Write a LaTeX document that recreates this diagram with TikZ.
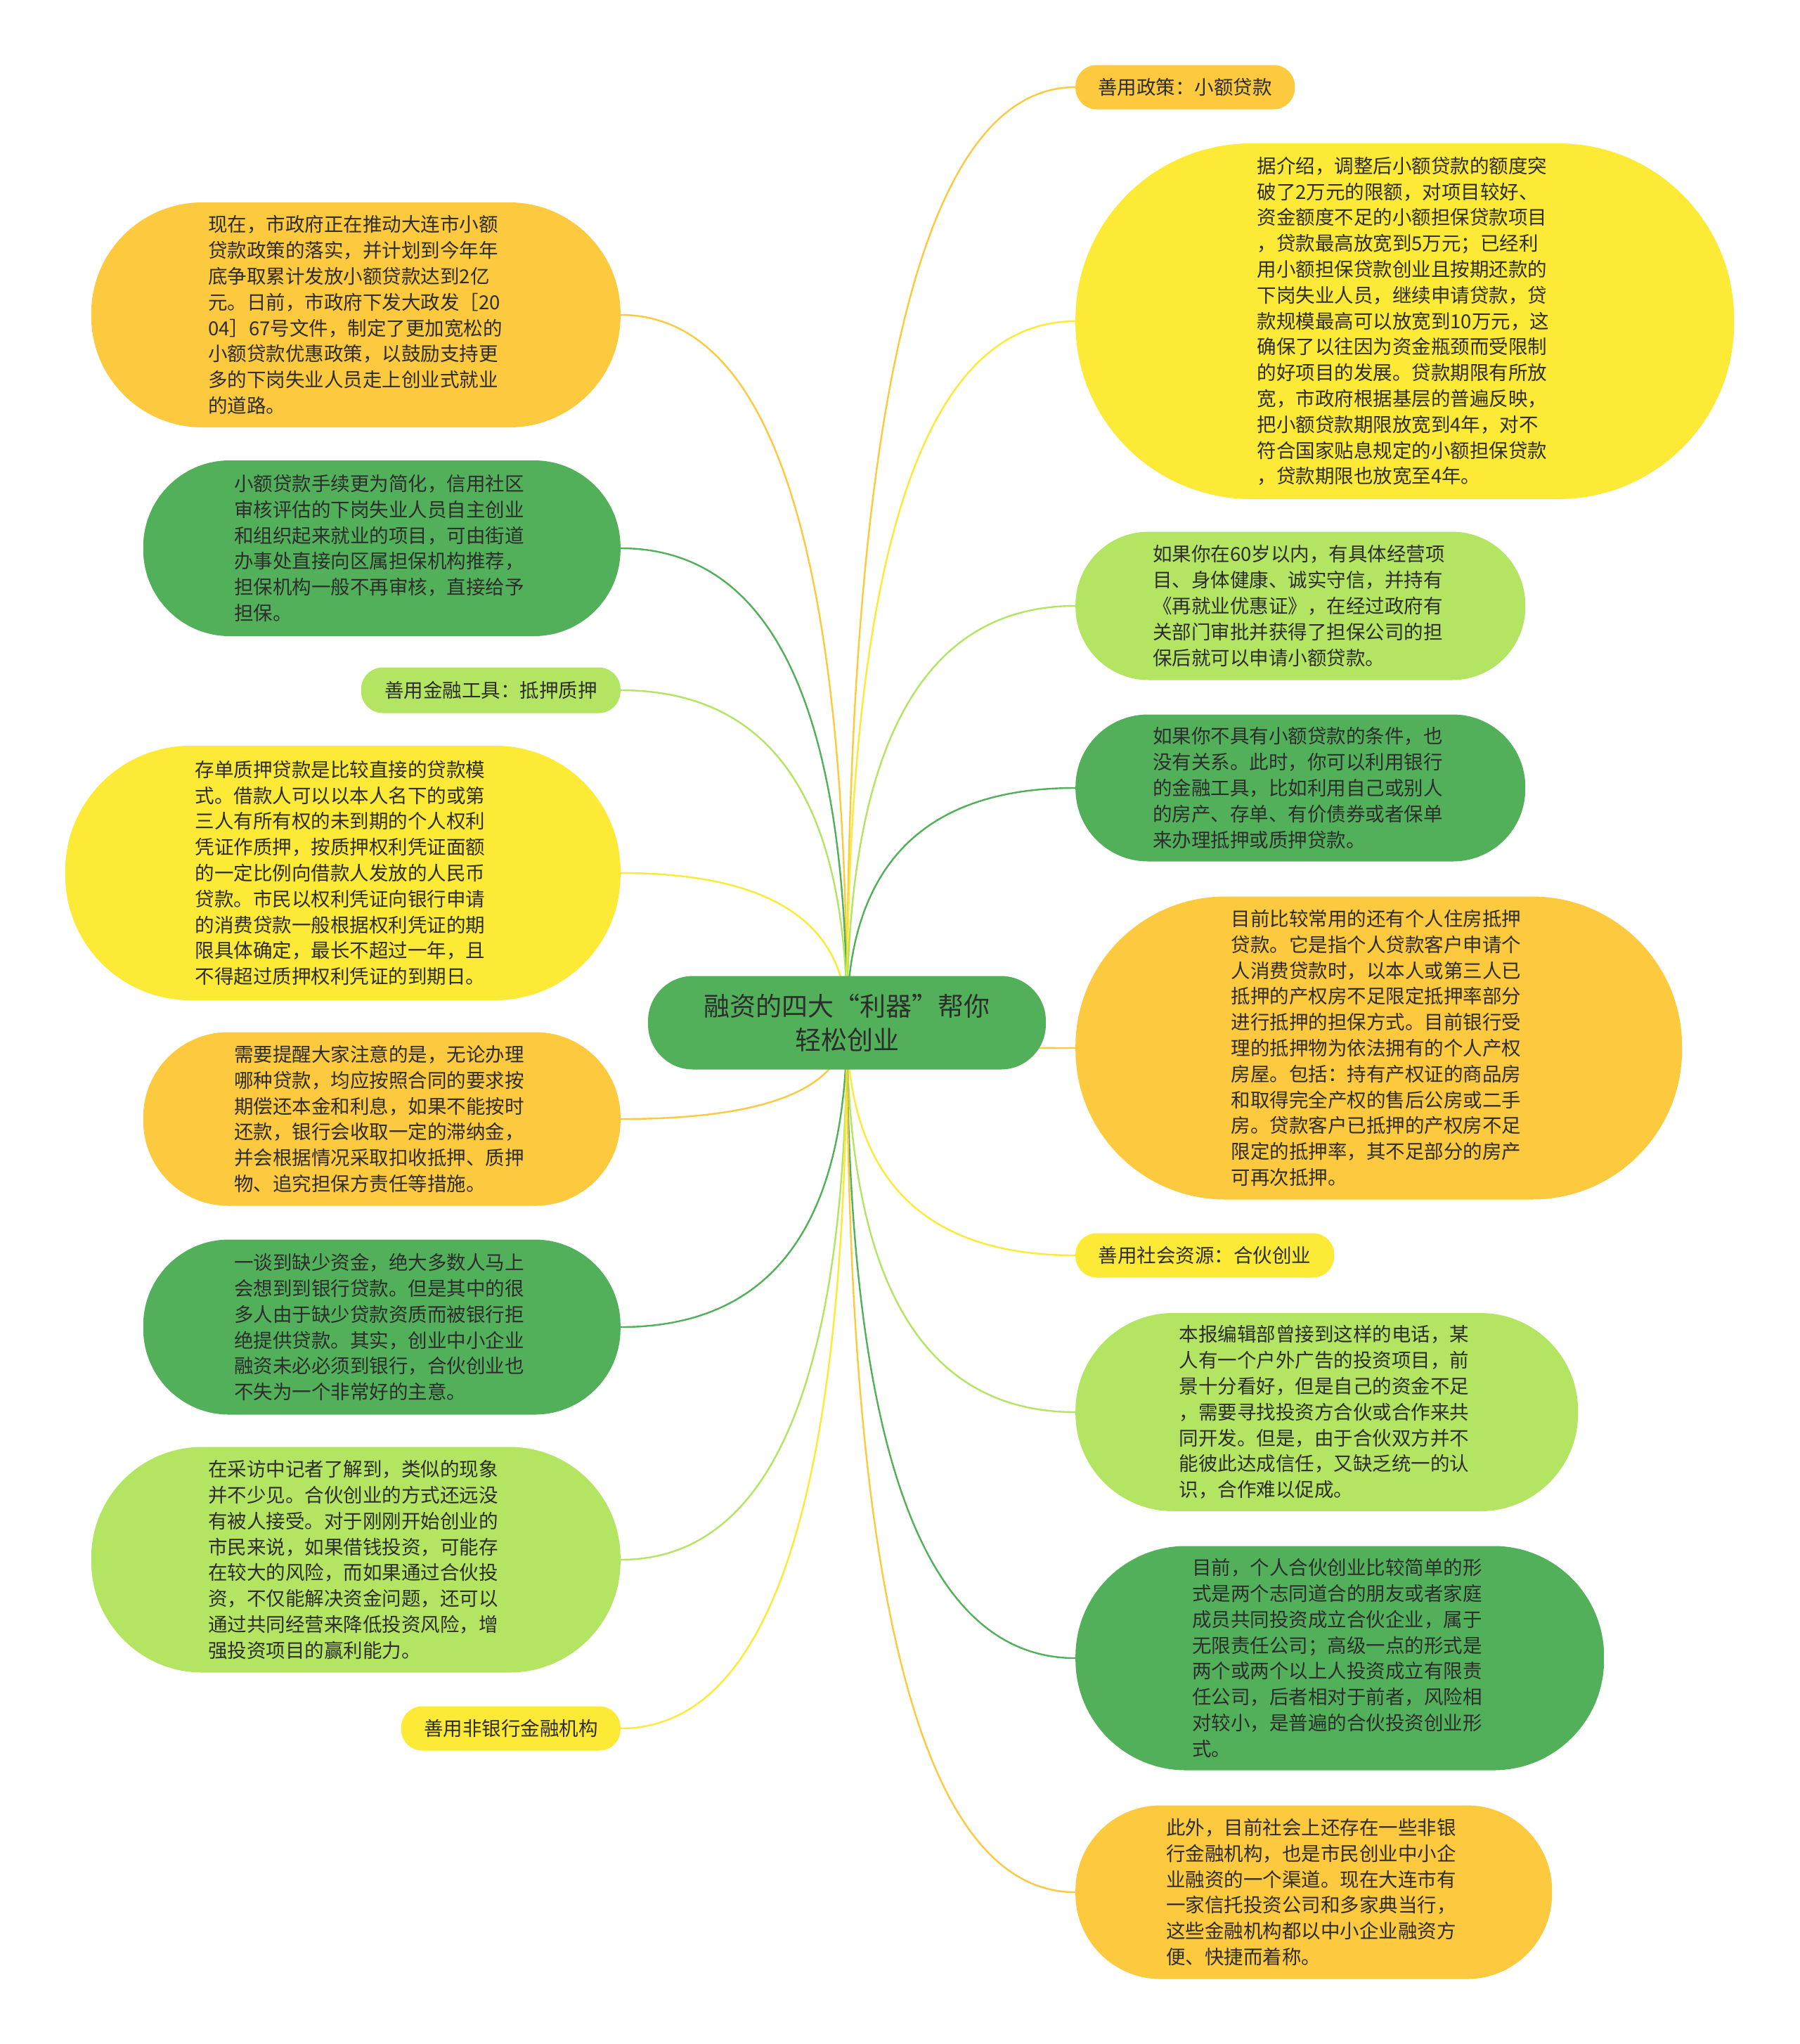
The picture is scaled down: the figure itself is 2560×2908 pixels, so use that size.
\documentclass[tikz,border=0pt]{standalone}
\usepackage{fontspec}
\setmainfont{Noto Sans CJK SC}
\usepackage{xcolor}
\usepackage{tikz}
\usetikzlibrary{calc, positioning}

\definecolor{orng}{RGB}{253,201,62}
\definecolor{ylw}{RGB}{253,234,55}
\definecolor{lgrn}{RGB}{180,229,98}
\definecolor{grn}{RGB}{82,176,90}
\definecolor{ink}{RGB}{45,45,45}

\begin{document}
\begin{tikzpicture}[x=1pt, y=-1pt,
    bub/.style={fill=#1, draw=none, text=ink, align=left, text width=420pt,
        inner sep=0pt, font=\fontsize{27.5}{36.8}\selectfont},
    tag/.style={fill=#1, draw=none, text=ink, inner sep=0pt,
        font=\fontsize{27.5}{36.8}\selectfont},
    link/.style={line width=2.4pt}]
    \useasboundingbox (0,0) rectangle (2560,2908);
    \fill[white] (0,0) rectangle (2560,2908);
    \coordinate (hub) at (1205,1455);

    % 1. Nhánh trái
    \node[bub=orng, anchor=east, minimum width=753pt, minimum height=320pt, rounded corners=158pt] (L1) at (883,448) {现在，市政府正在推动大连市小额\\
贷款政策的落实，并计划到今年年\\
底争取累计发放小额贷款达到2亿\\
元。日前，市政府下发大政发［20\\
04］67号文件，制定了更加宽松的\\
小额贷款优惠政策，以鼓励支持更\\
多的下岗失业人员走上创业式就业\\
的道路。};
    \node[bub=grn, anchor=east, minimum width=679pt, minimum height=250pt, rounded corners=123pt] (L2) at (883,780) {小额贷款手续更为简化，信用社区\\
审核评估的下岗失业人员自主创业\\
和组织起来就业的项目，可由街道\\
办事处直接向区属担保机构推荐，\\
担保机构一般不再审核，直接给予\\
担保。};
    \node[tag=lgrn, anchor=east, minimum width=369pt, minimum height=65pt, rounded corners=31pt] (L3) at (883,982) {善用金融工具：抵押质押};
    \node[bub=ylw, anchor=east, minimum width=790pt, minimum height=362pt, rounded corners=178pt] (L4) at (883,1242) {存单质押贷款是比较直接的贷款模\\
式。借款人可以以本人名下的或第\\
三人有所有权的未到期的个人权利\\
凭证作质押，按质押权利凭证面额\\
的一定比例向借款人发放的人民币\\
贷款。市民以权利凭证向银行申请\\
的消费贷款一般根据权利凭证的期\\
限具体确定，最长不超过一年，且\\
不得超过质押权利凭证的到期日。};
    \node[bub=orng, anchor=east, minimum width=679pt, minimum height=247pt, rounded corners=121pt] (L5) at (883,1592) {需要提醒大家注意的是，无论办理\\
哪种贷款，均应按照合同的要求按\\
期偿还本金和利息，如果不能按时\\
还款，银行会收取一定的滞纳金，\\
并会根据情况采取扣收抵押、质押\\
物、追究担保方责任等措施。};
    \node[bub=grn, anchor=east, minimum width=679pt, minimum height=249pt, rounded corners=122pt] (L6) at (883,1888) {一谈到缺少资金，绝大多数人马上\\
会想到到银行贷款。但是其中的很\\
多人由于缺少贷款资质而被银行拒\\
绝提供贷款。其实，创业中小企业\\
融资未必必须到银行，合伙创业也\\
不失为一个非常好的主意。};
    \node[bub=lgrn, anchor=east, minimum width=753pt, minimum height=321pt, rounded corners=158pt] (L7) at (883,2219) {在采访中记者了解到，类似的现象\\
并不少见。合伙创业的方式还远没\\
有被人接受。对于刚刚开始创业的\\
市民来说，如果借钱投资，可能存\\
在较大的风险，而如果通过合伙投\\
资，不仅能解决资金问题，还可以\\
通过共同经营来降低投资风险，增\\
强投资项目的赢利能力。};
    \node[tag=ylw, anchor=east, minimum width=312pt, minimum height=63pt, rounded corners=30pt] (L8) at (883,2459) {善用非银行金融机构};

    % 2. Nhánh phải
    \node[tag=orng, anchor=west, minimum width=312pt, minimum height=63pt, rounded corners=30pt] (R1) at (1530,124) {善用政策：小额贷款};
    \node[bub=ylw, anchor=west, minimum width=937pt, minimum height=506pt, rounded corners=250pt] (R2) at (1530,457) {据介绍，调整后小额贷款的额度突\\
破了2万元的限额，对项目较好、\\
资金额度不足的小额担保贷款项目\\
，贷款最高放宽到5万元；已经利\\
用小额担保贷款创业且按期还款的\\
下岗失业人员，继续申请贷款，贷\\
款规模最高可以放宽到10万元，这\\
确保了以往因为资金瓶颈而受限制\\
的好项目的发展。贷款期限有所放\\
宽，市政府根据基层的普遍反映，\\
把小额贷款期限放宽到4年，对不\\
符合国家贴息规定的小额担保贷款\\
，贷款期限也放宽至4年。};
    \node[bub=lgrn, anchor=west, minimum width=640pt, minimum height=211pt, rounded corners=104pt] (R3) at (1530,862) {如果你在60岁以内，有具体经营项\\
目、身体健康、诚实守信，并持有\\
《再就业优惠证》，在经过政府有\\
关部门审批并获得了担保公司的担\\
保后就可以申请小额贷款。};
    \node[bub=grn, anchor=west, minimum width=640pt, minimum height=209pt, rounded corners=103pt] (R4) at (1530,1121) {如果你不具有小额贷款的条件，也\\
没有关系。此时，你可以利用银行\\
的金融工具，比如利用自己或别人\\
的房产、存单、有价债券或者保单\\
来办理抵押或质押贷款。};
    \node[bub=orng, anchor=west, minimum width=863pt, minimum height=431pt, rounded corners=213pt] (R5) at (1530,1491) {目前比较常用的还有个人住房抵押\\
贷款。它是指个人贷款客户申请个\\
人消费贷款时，以本人或第三人已\\
抵押的产权房不足限定抵押率部分\\
进行抵押的担保方式。目前银行受\\
理的抵押物为依法拥有的个人产权\\
房屋。包括：持有产权证的商品房\\
和取得完全产权的售后公房或二手\\
房。贷款客户已抵押的产权房不足\\
限定的抵押率，其不足部分的房产\\
可再次抵押。};
    \node[tag=ylw, anchor=west, minimum width=368pt, minimum height=63pt, rounded corners=30pt] (R6) at (1530,1786) {善用社会资源：合伙创业};
    \node[bub=lgrn, anchor=west, minimum width=715pt, minimum height=282pt, rounded corners=139pt] (R7) at (1530,2009) {本报编辑部曾接到这样的电话，某\\
人有一个户外广告的投资项目，前\\
景十分看好，但是自己的资金不足\\
，需要寻找投资方合伙或合作来共\\
同开发。但是，由于合伙双方并不\\
能彼此达成信任，又缺乏统一的认\\
识，合作难以促成。};
    \node[bub=grn, anchor=west, minimum width=752pt, minimum height=319pt, rounded corners=157pt] (R8) at (1530,2359) {目前，个人合伙创业比较简单的形\\
式是两个志同道合的朋友或者家庭\\
成员共同投资成立合伙企业，属于\\
无限责任公司；高级一点的形式是\\
两个或两个以上人投资成立有限责\\
任公司，后者相对于前者，风险相\\
对较小，是普遍的合伙投资创业形\\
式。};
    \node[bub=orng, anchor=west, minimum width=678pt, minimum height=247pt, rounded corners=121pt] (R9) at (1530,2692) {此外，目前社会上还存在一些非银\\
行金融机构，也是市民创业中小企\\
业融资的一个渠道。现在大连市有\\
一家信托投资公司和多家典当行，\\
这些金融机构都以中小企业融资方\\
便、快捷而着称。};

    % 3. Đường nối
    \foreach \nm/\col in {L1/orng, L2/grn, L3/lgrn, L4/ylw, L5/orng, L6/grn, L7/lgrn, L8/ylw} {
        \draw[link, draw=\col] (hub) .. controls ($(hub)!0.667!(hub |- \nm.east)$)
            and ($(\nm.east)!0.667!(hub |- \nm.east)$) .. (\nm.east);
    }
    \foreach \nm/\col in {R1/orng, R2/ylw, R3/lgrn, R4/grn, R5/orng, R6/ylw, R7/lgrn, R8/grn, R9/orng} {
        \draw[link, draw=\col] (hub) .. controls ($(hub)!0.667!(hub |- \nm.west)$)
            and ($(\nm.west)!0.667!(hub |- \nm.west)$) .. (\nm.west);
    }

    % 4. Chủ đề trung tâm
    \node[fill=grn, text=ink, align=center, inner sep=0pt, minimum width=566pt, minimum height=133pt,
        rounded corners=64pt, font=\fontsize{37}{48}\selectfont] (root) at (hub) {融资的四大“利器”帮你\\轻松创业};
\end{tikzpicture}
\end{document}
